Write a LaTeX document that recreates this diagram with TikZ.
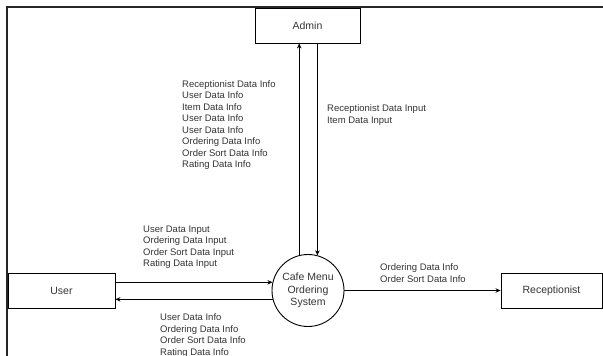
\documentclass[tikz,border=0pt]{standalone}
\usepackage{fontspec}
\setmainfont{Liberation Sans}
\usetikzlibrary{arrows.meta}
\definecolor{inkgray}{HTML}{333333}

\begin{document}
\begin{tikzpicture}[x=1pt,y=-1pt,
	entity/.style={draw,line width=0.9pt,minimum height=35pt,inner sep=0pt,font=\fontsize{10.5}{12.5}\selectfont,text=inkgray},
	process/.style={draw,circle,line width=0.9pt,minimum size=72pt,inner sep=0pt,align=center,font=\fontsize{10.5}{12.5}\selectfont,text=inkgray},
	flow/.style={line width=0.8pt,-{Stealth[length=5pt,width=4.5pt]}},
	flowlabel/.style={anchor=north west,inner sep=0pt,align=left,font=\fontsize{9.5}{11.5}\selectfont,text=inkgray}]
	\useasboundingbox (0,0) rectangle (603,356);
	\draw[line width=2pt,black!85] (7,356) -- (7,7) -- (603,7);
	% terminators and the process
	\node[entity,minimum width=105pt] (admin) at (307.5,25.5) {Admin};
	\node[entity,minimum width=107pt] (user) at (61.5,290.5) {User};
	\node[entity,minimum width=101pt] (recep) at (551.5,290.5) {Receptionist};
	\node[process] (sys) at (308,290.5) {Cafe Menu\\Ordering\\System};
	% data flows
	\draw[flow] (sys.104.5) -- (sys.104.5 |- admin.south);
	\draw[flow] (admin.south -| sys.75.5) -- (sys.75.5);
	\draw[flow] (user.east |- sys.167) -- (sys.167);
	\draw[flow] (sys.194) -- (sys.194 -| user.east);
	\draw[flow] (sys.east) -- (recep.west);
	% flow labels
	\node[flowlabel] (toadmin) at (182,80) {Receptionist Data Info\\User Data Info\\Item Data Info\\User Data Info\\User Data Info\\Ordering Data Info\\Order Sort Data Info\\Rating Data Info};
	\node[flowlabel] (fromadmin) at (327,104.5) {Receptionist Data Input\\Item Data Input};
	\node[flowlabel] (fromuser) at (143,225.5) {User Data Input\\Ordering Data Input\\Order Sort Data Input\\Rating Data Input};
	\node[flowlabel] (touser) at (160,313.5) {User Data Info\\Ordering Data Info\\Order Sort Data Info\\Rating Data Info};
	\node[flowlabel] (torecep) at (380,263.5) {Ordering Data Info\\Order Sort Data Info};
\end{tikzpicture}
\end{document}
